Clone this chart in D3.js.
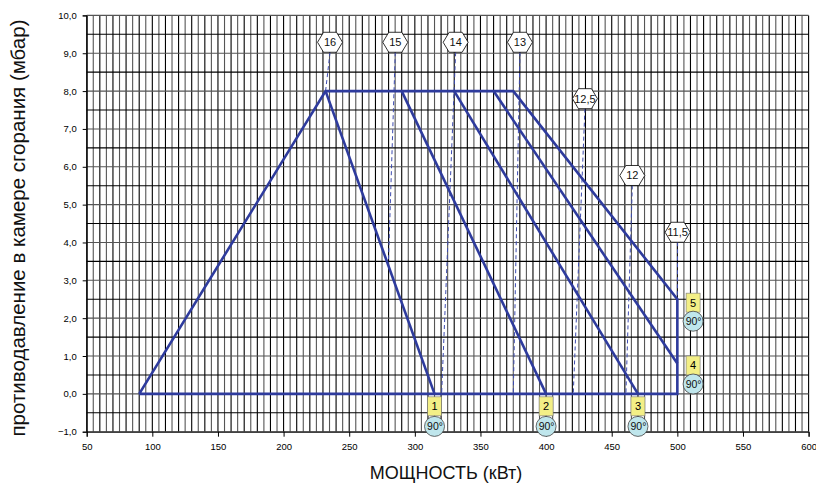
<!DOCTYPE html>
<html><head><meta charset="utf-8">
<script src="https://cdn.jsdelivr.net/npm/d3@7"></script>
<style>body{margin:0;background:#fff}svg{display:block;font-family:"Liberation Sans",Arial,sans-serif}</style>
</head><body><svg id="c" width="816" height="485"></svg>
<script>
const xTicks = [50,100,150,200,250,300,350,400,450,500,550,600];
const yTicks = [-1,0,1,2,3,4,5,6,7,8,9,10];
const envelope = [[90,0],[232,8],[375,8],[500,2.5],[500,0],[90,0]];
const curves = [
  [[232,8],[315,0]],
  [[290,8],[400,0]],
  [[330,8],[470,0]],
  [[360,8],[500,0.8]]
];
const hexLabels = ["16","15","14","13","12,5","12","11,5"];
const hexX = [235.4,285.1,331.1,380.1,429.6,465.7,500.2];
const hexY = [9.29,9.29,9.29,9.29,7.80,5.77,4.27];
const dashEnd = [[232,8],[279.8,3.4],[320.4,0],[375,0],[420.7,0],[460.8,0],[500,2.5]];
const markerLabels = ["1","2","3","4","5"];
const markerX = [315,400,470,512,512];
const markerBoxY = [-0.33,-0.33,-0.33,0.75,2.41];
const markerCircY = [-0.86,-0.86,-0.86,0.26,1.92];
const angleLabel = "90°";
const xTitle = "МОЩНОСТЬ (кВт)";
const yTitle = "противодавление в камере сгорания (мбар)";

const svg = d3.select("#c");
const x = d3.scaleLinear().domain([50,600]).range([86.7,808.6]);
const y = d3.scaleLinear().domain([-1,10]).range([431.7,15.4]);
const fmt = v => d3.format(".1f")(v).replace(".",",");

// grid
const g = svg.append("g");
g.selectAll("line.v").data(d3.range(50,600.1,5)).join("line")
  .attr("x1",d=>x(d)).attr("x2",d=>x(d)).attr("y1",y(10)).attr("y2",y(-1))
  .attr("stroke",(d,i)=>i%2?"#555":"#000").attr("stroke-width",1.1);
g.selectAll("line.h").data(d3.range(-1,10.01,0.5)).join("line")
  .attr("y1",d=>y(d)).attr("y2",d=>y(d)).attr("x1",x(50)).attr("x2",x(600))
  .attr("stroke",(d,i)=>i%2?"#000":"#555").attr("stroke-width",1.1);

// axes
const xa = svg.append("g").attr("transform",`translate(0,${y(-1)})`)
  .call(d3.axisBottom(x).tickValues(xTicks).tickSize(5).tickPadding(7));
xa.select(".domain").attr("stroke","#000");
xa.selectAll("text").attr("font-size",9.5).attr("fill","#000").attr("font-family","Liberation Sans, Arial, sans-serif");
const ya = svg.append("g").attr("transform",`translate(${x(50)},0)`)
  .call(d3.axisLeft(y).tickValues(yTicks).tickFormat(fmt).tickSize(4).tickPadding(6));
ya.select(".domain").attr("stroke","#000");
ya.selectAll("text").attr("font-size",9.5).attr("fill","#000").attr("font-family","Liberation Sans, Arial, sans-serif");

// dashed lines
const blue = "#2e3b9d";
svg.append("g").selectAll("line").data(hexX).join("line")
  .attr("x1",(d,i)=>x(d)).attr("y1",(d,i)=>y(hexY[i])+10)
  .attr("x2",(d,i)=>x(dashEnd[i][0])).attr("y2",(d,i)=>y(dashEnd[i][1]))
  .attr("stroke","#3d4bb0").attr("stroke-width",1).attr("stroke-dasharray","4,3");

// curves
const line = d3.line().x(d=>x(d[0])).y(d=>y(d[1]));
svg.append("path").attr("d",line(envelope)).attr("fill","none").attr("stroke",blue).attr("stroke-width",2.6).attr("stroke-linejoin","miter");
svg.append("g").selectAll("path").data(curves).join("path")
  .attr("d",line).attr("fill","none").attr("stroke",blue).attr("stroke-width",2.6);

// hexagons
const hex = [[-12.5,0],[-6.5,-10],[6.5,-10],[12.5,0],[6.5,10],[-6.5,10]];
const hg = svg.append("g").selectAll("g").data(hexLabels).join("g")
  .attr("transform",(d,i)=>`translate(${x(hexX[i])},${y(hexY[i])})`);
hg.append("polygon").attr("points",hex.map(p=>p.join(",")).join(" "))
  .attr("fill","#fff").attr("stroke","#000").attr("stroke-width",0.8);
hg.append("text").text(d=>d).attr("text-anchor","middle").attr("dy","0.35em")
  .attr("font-size",11).attr("fill","#111");

// markers
const mg = svg.append("g").selectAll("g").data(markerLabels).join("g");
mg.append("rect").attr("x",(d,i)=>x(markerX[i])-7).attr("y",(d,i)=>y(markerBoxY[i])-9.5)
  .attr("width",14).attr("height",19).attr("fill","#f3ef86").attr("stroke","#777").attr("stroke-width",0.6);
mg.append("text").text(d=>d).attr("x",(d,i)=>x(markerX[i])).attr("y",(d,i)=>y(markerBoxY[i]))
  .attr("dy","0.36em").attr("text-anchor","middle").attr("font-size",11).attr("fill","#000");
mg.append("circle").attr("cx",(d,i)=>x(markerX[i])).attr("cy",(d,i)=>y(markerCircY[i])).attr("r",10)
  .attr("fill","#bfe6ec").attr("stroke","#444").attr("stroke-width",0.8);
mg.append("text").text(angleLabel).attr("x",(d,i)=>x(markerX[i])+0.5).attr("y",(d,i)=>y(markerCircY[i]))
  .attr("dy","0.36em").attr("text-anchor","middle").attr("font-size",10.5).attr("fill","#111");

// titles
svg.append("text").text(xTitle).attr("x",446).attr("y",479).attr("text-anchor","middle")
  .attr("font-size",18).attr("fill","#111");
svg.append("text").text(yTitle).attr("transform","translate(25,228) rotate(-90)").attr("text-anchor","middle")
  .attr("font-size",20.5).attr("fill","#111");
</script></body></html>
